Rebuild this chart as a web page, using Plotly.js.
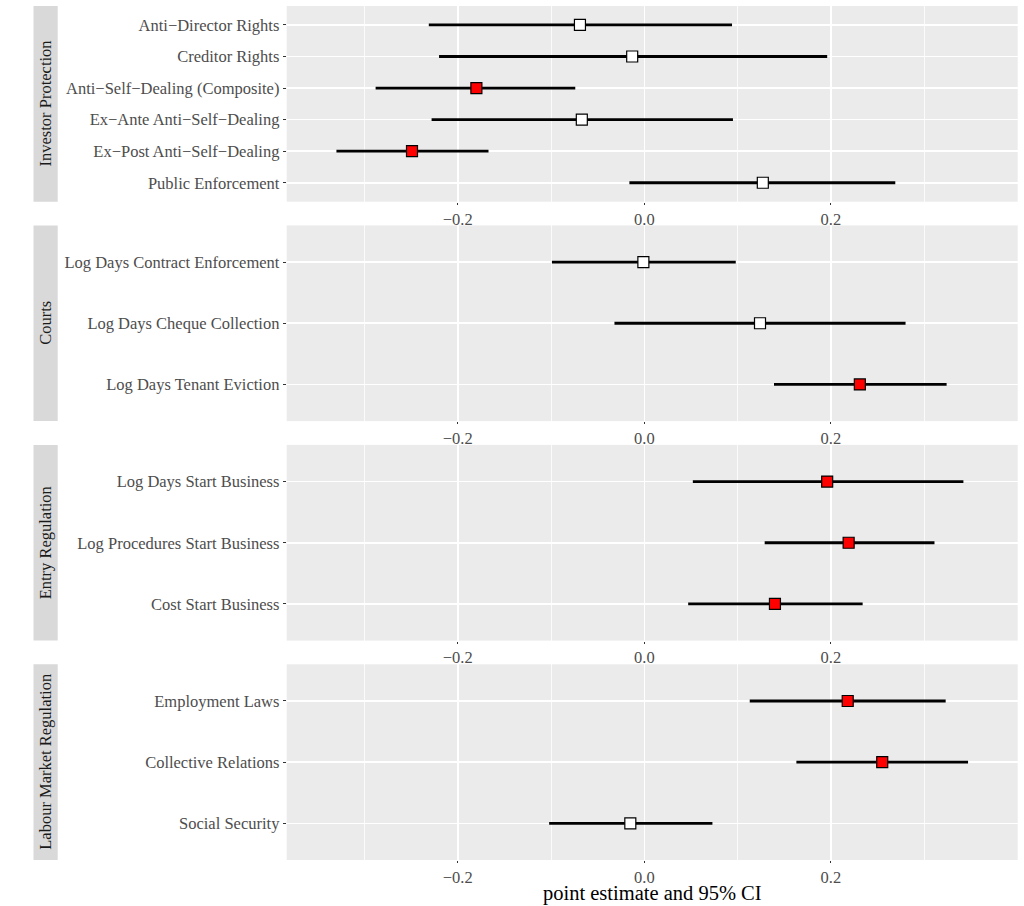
<!DOCTYPE html>
<html><head><meta charset="utf-8">
<script src="https://cdn.plot.ly/plotly-3.0.1.min.js"></script>
<style>html,body{margin:0;padding:0;background:#fff}</style>
</head><body>
<div id="chart" style="width:1024px;height:906px"></div>
<script>
// ---- data ----
const panelNames = ["Investor Protection", "Courts", "Entry Regulation", "Labour Market Regulation"];

const labelsInvestor = ["Anti\u2212Director Rights", "Creditor Rights", "Anti\u2212Self\u2212Dealing (Composite)",
  "Ex\u2212Ante Anti\u2212Self\u2212Dealing", "Ex\u2212Post Anti\u2212Self\u2212Dealing", "Public Enforcement"];
const estInvestor = [-0.069, -0.013, -0.180, -0.067, -0.249, 0.127];
const loInvestor  = [-0.231, -0.220, -0.288, -0.228, -0.330, -0.016];
const hiInvestor  = [0.094, 0.196, -0.074, 0.095, -0.167, 0.269];

const labelsCourts = ["Log Days Contract Enforcement", "Log Days Cheque Collection", "Log Days Tenant Eviction"];
const estCourts = [-0.001, 0.124, 0.231];
const loCourts  = [-0.099, -0.032, 0.139];
const hiCourts  = [0.098, 0.280, 0.324];

const labelsEntry = ["Log Days Start Business", "Log Procedures Start Business", "Cost Start Business"];
const estEntry = [0.196, 0.219, 0.140];
const loEntry  = [0.052, 0.129, 0.047];
const hiEntry  = [0.342, 0.311, 0.234];

const labelsLabour = ["Employment Laws", "Collective Relations", "Social Security"];
const estLabour = [0.218, 0.255, -0.015];
const loLabour  = [0.113, 0.163, -0.102];
const hiLabour  = [0.323, 0.347, 0.073];

const xTickVals = [-0.2, 0.0, 0.2];
const xTickText = ["\u22120.2", "0.0", "0.2"];
const xAxisTitle = "point estimate and 95% CI";

// ---- layout geometry ----
const W = 1024, H = 906;
const panelTopsPx = [6, 225.4, 444.9, 664.3];
const panelH = 195.7;
const xDom = [286.7 / W, 1017.7 / W];
const xRange = [-0.3833, 0.4002];
const FONT = "Liberation Serif, Times New Roman, serif";
const FS = 16.5;

const panelData = [
  [labelsInvestor, estInvestor, loInvestor, hiInvestor],
  [labelsCourts, estCourts, loCourts, hiCourts],
  [labelsEntry, estEntry, loEntry, hiEntry],
  [labelsLabour, estLabour, loLabour, hiLabour]
];

const traces = [];
const layout = {
  width: W, height: H,
  margin: {l: 0, r: 0, t: 0, b: 0},
  paper_bgcolor: "#ffffff",
  plot_bgcolor: "#ebebeb",
  showlegend: false,
  font: {family: FONT, size: FS, color: "#4d4d4d"},
  shapes: [],
  annotations: []
};

panelData.forEach((p, i) => {
  const [labs, est, lo, hi] = p;
  const n = labs.length;
  const k = i + 1;
  const xs = k === 1 ? "x" : "x" + k;
  const ys = k === 1 ? "y" : "y" + k;
  const lx = [], ly = [];
  labs.forEach((l, j) => { lx.push(lo[j], hi[j], null); ly.push(l, l, null); });
  traces.push({type: "scatter", mode: "lines", x: lx, y: ly, xaxis: xs, yaxis: ys,
    line: {color: "#000000", width: 2.8}, hoverinfo: "skip"});
  const colors = labs.map((l, j) => (lo[j] > 0 || hi[j] < 0) ? "#ff0000" : "#ffffff");
  traces.push({type: "scatter", mode: "markers", x: est, y: labs, xaxis: xs, yaxis: ys,
    marker: {symbol: "square", size: 11, color: colors, line: {color: "#000000", width: 1.2}}});

  const top = panelTopsPx[i], bot = top + panelH;
  const yDom = [1 - bot / H, 1 - top / H];
  layout["xaxis" + (k === 1 ? "" : k)] = {
    domain: xDom, range: xRange, anchor: ys, type: "linear",
    tickvals: xTickVals, ticktext: xTickText,
    ticks: "outside", ticklen: 2, tickwidth: 1, tickcolor: "#333333",
    showgrid: true, gridcolor: "#ffffff", gridwidth: 1.6,
    minor: {tickvals: [-0.3, -0.1, 0.1, 0.3], showgrid: true, gridcolor: "#ffffff", gridwidth: 0.8, ticks: ""},
    zeroline: false, showline: false,
    tickfont: {family: FONT, size: FS, color: "#4d4d4d"},
    fixedrange: true
  };
  layout["yaxis" + (k === 1 ? "" : k)] = {
    domain: yDom, anchor: xs, type: "category",
    categoryorder: "array", categoryarray: labs,
    range: [n - 0.4, -0.6],
    ticks: "outside", ticklen: 3, tickwidth: 1, tickcolor: "#333333",
    showgrid: true, gridcolor: "#ffffff", gridwidth: 1.6,
    zeroline: false, showline: false,
    tickfont: {family: FONT, size: FS, color: "#4d4d4d"},
    fixedrange: true
  };
  // strip
  layout.shapes.push({type: "rect", xref: "paper", yref: "paper",
    x0: 33.5 / W, x1: 57.7 / W, y0: yDom[0], y1: yDom[1],
    fillcolor: "#d9d9d9", line: {width: 0}, layer: "below"});
  layout.annotations.push({xref: "paper", yref: "paper", x: 45.6 / W, y: (yDom[0] + yDom[1]) / 2,
    text: panelNames[i], textangle: -90, showarrow: false, xanchor: "center", yanchor: "middle",
    font: {family: FONT, size: FS, color: "#1a1a1a"}});
});

layout.annotations.push({xref: "paper", yref: "paper", x: (xDom[0] + xDom[1]) / 2, y: 1 - 893.5 / H,
  text: xAxisTitle, showarrow: false, xanchor: "center", yanchor: "middle",
  font: {family: FONT, size: 20.5, color: "#000000"}});

Plotly.newPlot("chart", traces, layout, {displayModeBar: false, staticPlot: true});
</script>
</body></html>
